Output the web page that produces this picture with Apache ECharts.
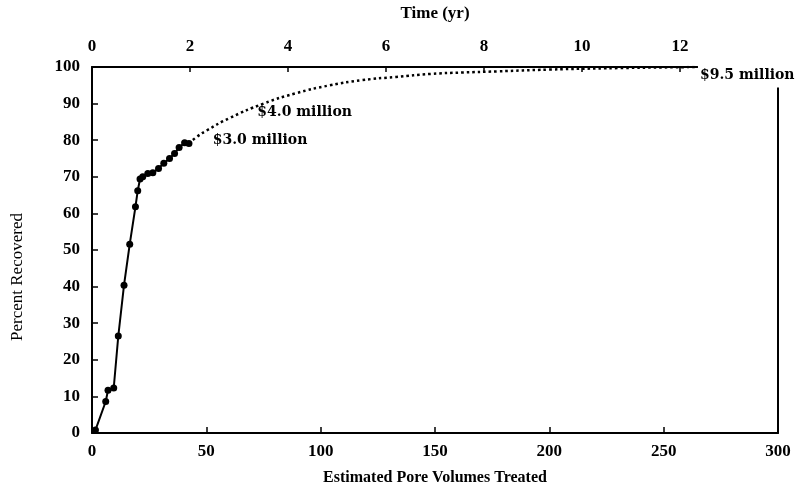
<!DOCTYPE html>
<html>
<head>
<meta charset="utf-8">
<script src="https://cdn.jsdelivr.net/npm/echarts@6/dist/echarts.min.js"></script>
<style>
  html,body{margin:0;padding:0;background:#fff;}
  #chart{width:812px;height:493px;}
</style>
</head>
<body>
<div id="chart"></div>
<script>
// measured points (pore volumes, percent recovered)
let poreVolumes=[1.5, 6, 7, 9.5, 11.5, 14, 16.5, 19, 20, 21, 22.2, 24.4, 26.6, 29.1, 31.4, 33.9, 36.1, 38.1, 40.5, 42.4]
let recovered=[0.8, 8.6, 11.7, 12.3, 26.5, 40.4, 51.6, 61.8, 66.2, 69.4, 70, 70.9, 71.1, 72.3, 73.7, 75, 76.4, 78, 79.3, 79.1]
// projected curve (dotted)
let trendPV=[42.4, 46, 50, 60, 75, 89, 104, 118, 133, 148, 162, 177, 200, 230, 264]
let trendPct=[79.1, 81, 82.6, 86, 90, 92.8, 95, 96.4, 97.3, 98.1, 98.5, 98.8, 99.3, 99.7, 100]
// cost notes
let noteText=['$3.0 million', '$4.0 million', '$9.5 million']
let noteX=[52.8, 72.3, 265]
let noteY=[80, 87.6, 97.8]

let serif='"Liberation Serif", "Times New Roman", serif'
let noteFont='"DejaVu Serif", serif'

let myChart=echarts.init(document.getElementById('chart'))
let options={
  backgroundColor:'#fff',
  animation:false,
  grid:{left:92,right:34,top:67,bottom:60},
  xAxis:[
    {
      type:'value',
      min:0,
      max:300,
      interval:50,
      position:'bottom',
      name:'Estimated Pore Volumes Treated',
      nameLocation:'middle',
      nameGap:37,
      nameTextStyle:{color:'#000',fontFamily:serif,fontWeight:'bold',fontSize:16},
      axisLine:{show:true,onZero:false,lineStyle:{color:'#000',width:2}},
      axisTick:{inside:true,length:6,lineStyle:{color:'#000',width:1.5}},
      axisLabel:{color:'#000',fontFamily:serif,fontWeight:'bold',fontSize:17,margin:10},
      splitLine:{show:false}
    },
    {
      type:'value',
      min:0,
      max:14,
      interval:2,
      position:'top',
      name:'Time (yr)',
      nameLocation:'middle',
      nameGap:45,
      nameTextStyle:{color:'#000',fontFamily:serif,fontWeight:'bold',fontSize:17},
      axisLine:{show:true,onZero:false,lineStyle:{color:'#000',width:2}},
      axisTick:{inside:true,length:5,lineStyle:{color:'#000',width:1.5}},
      axisLabel:{color:'#000',fontFamily:serif,fontWeight:'bold',fontSize:17,margin:12,showMaxLabel:false},
      splitLine:{show:false}
    }
  ],
  yAxis:[
    {
      type:'value',
      min:0,
      max:100,
      interval:10,
      name:'Percent Recovered',
      nameLocation:'middle',
      nameGap:66,
      nameRotate:90,
      nameTextStyle:{color:'#000',fontFamily:serif,fontSize:17,padding:[0,54,0,0]},
      axisLine:{show:true,onZero:false,lineStyle:{color:'#000',width:2}},
      axisTick:{inside:true,length:6,lineStyle:{color:'#000',width:1.5}},
      axisLabel:{color:'#000',fontFamily:serif,fontWeight:'bold',fontSize:17,margin:12},
      splitLine:{show:false}
    },
    {
      type:'value',
      min:0,
      max:100,
      position:'right',
      axisLine:{show:true,onZero:false,lineStyle:{color:'#000',width:2}},
      axisTick:{show:false},
      axisLabel:{show:false},
      splitLine:{show:false}
    }
  ],
  series:[
    {
      name:'measured',
      type:'line',
      data:poreVolumes.map((v,i)=>[v,recovered[i]]),
      symbol:'circle',
      symbolSize:7,
      itemStyle:{color:'#000'},
      lineStyle:{color:'#000',width:2},
      z:4
    },
    {
      name:'projected',
      type:'line',
      data:trendPV.map((v,i)=>[v,trendPct[i]]),
      smooth:true,
      showSymbol:false,
      lineStyle:{color:'#000',width:2.5,type:[2.5,3]},
      z:3
    },
    {
      name:'notes',
      type:'scatter',
      data:noteX.map((v,i)=>({
        value:[v,noteY[i],noteText[i]],
        // only the last note hides the end of the top axis line
        label:i==2?{backgroundColor:'#fff',padding:[6,4,5,2]}:{}
      })),
      symbolSize:0,
      itemStyle:{opacity:1,color:'#000'},
      z:10,
      label:{
        show:true,
        position:'right',
        distance:0,
        formatter:p=>p.value[2],
        color:'#000',
        opacity:1,
        fontFamily:noteFont,
        fontWeight:'bold',
        fontSize:14
      }
    }
  ]
}
myChart.setOption(options)
</script>
</body>
</html>
